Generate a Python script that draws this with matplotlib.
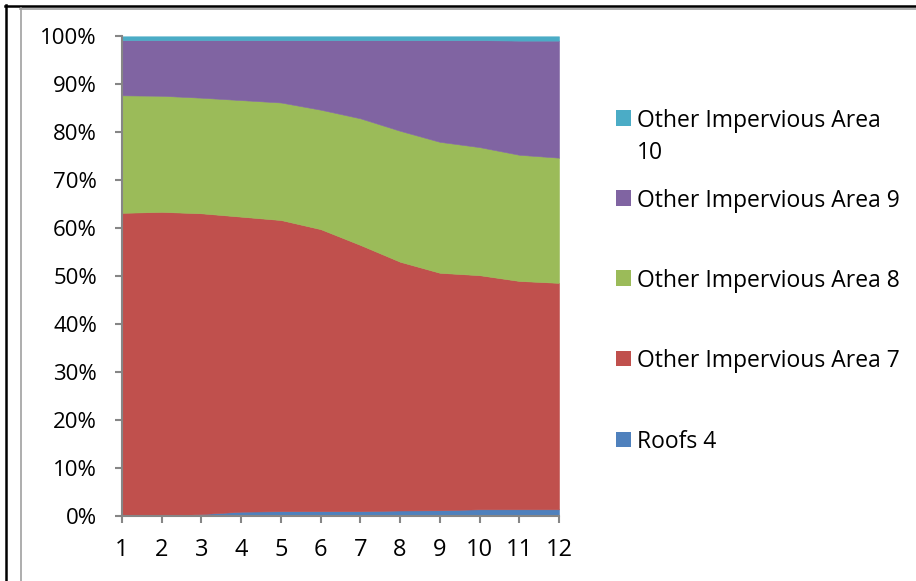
import matplotlib
matplotlib.use("Agg")
import matplotlib.pyplot as plt
import numpy as np
from matplotlib.lines import Line2D
from matplotlib.patches import Rectangle

plt.rcParams['font.family'] = ['Open Sans', 'DejaVu Sans']

periods = list(range(1, 13))
roofs_4 = [0.0, 0.05, 0.4, 0.9, 1.0, 1.0, 1.0, 1.15, 1.2, 1.4, 1.4, 1.4]
other_7 = [63.2, 63.35, 62.7, 61.5, 60.7, 58.8, 55.5, 51.85, 49.5, 48.8, 47.6, 47.2]
other_8 = [24.5, 24.2, 24.1, 24.3, 24.5, 24.9, 26.4, 27.3, 27.3, 26.7, 26.3, 26.1]
other_9 = [11.5, 11.6, 12.0, 12.5, 13.0, 14.5, 16.3, 18.9, 21.2, 22.3, 23.8, 24.4]
other_10 = [0.8, 0.8, 0.8, 0.8, 0.8, 0.8, 0.8, 0.8, 0.8, 0.8, 0.9, 0.9]

series = [roofs_4, other_7, other_8, other_9, other_10]
labels = ["Roofs 4", "Other Impervious Area 7", "Other Impervious Area 8",
          "Other Impervious Area 9", "Other Impervious Area 10"]
colors = ["#4F81BD", "#C0504D", "#9BBB59", "#8064A2", "#4BACC6"]
y_ticks = [0, 10, 20, 30, 40, 50, 60, 70, 80, 90, 100]

W, H = 916, 581
fig = plt.figure(figsize=(W / 100, H / 100), dpi=100)

# 100% stacked: normalise each period to its total
data = np.array(series, dtype=float)
data = data / data.sum(axis=0) * 100.0

left, right, top, bottom = 122, 559, 36.3, 516
ax = fig.add_axes([left / W, 1 - bottom / H, (right - left) / W, (bottom - top) / H])
ax.stackplot(periods, data, colors=colors, linewidth=0.4)
for poly, c in zip(ax.collections, colors):
    poly.set_edgecolor(c)

ax.set_xlim(1, 12)
ax.set_ylim(0, 100)
ax.set_xticks(periods)
ax.set_xticklabels([str(p) for p in periods])
ax.set_yticks(y_ticks)
ax.set_yticklabels([f"{v}%" for v in y_ticks])
for s in ("top", "right"):
    ax.spines[s].set_visible(False)
for s in ("left", "bottom"):
    ax.spines[s].set_color("#868686")
    ax.spines[s].set_linewidth(1.5)
ax.tick_params(axis="both", direction="out", length=5, width=1.5, color="#868686",
               labelcolor="black")
ax.tick_params(axis="y", pad=13, labelsize=16)
ax.tick_params(axis="x", pad=11, labelsize=17)

# legend drawn as swatches and labels in figure pixel space
def px(x, y):
    return x / W, 1 - y / H

legend_rows = [
    ("Other Impervious Area", 118, colors[4], "10"),
    ("Other Impervious Area 9", 198, colors[3], None),
    ("Other Impervious Area 8", 278, colors[2], None),
    ("Other Impervious Area 7", 358, colors[1], None),
    ("Roofs 4", 439, colors[0], None),
]
for text, yc, col, extra in legend_rows:
    x0, y0 = px(616, yc + 7.5)
    fig.add_artist(Rectangle((x0, y0), 15 / W, 15 / H, transform=fig.transFigure,
                             facecolor=col, edgecolor="none"))
    tx, ty = px(637, yc)
    fig.text(tx, ty, text, fontsize=16.5, va="center_baseline", ha="left")
    if extra:
        tx2, ty2 = px(637, yc + 32)
        fig.text(tx2, ty2, extra, fontsize=16.5, va="center_baseline", ha="left")

# outer frame lines (top and left)
fig.add_artist(Line2D([5.5 / W, 5.5 / W], [0, 1 - 5 / H], transform=fig.transFigure,
                      color="black", linewidth=1.8))
fig.add_artist(Line2D([5 / W, 1], [1 - 6 / H, 1 - 6 / H], transform=fig.transFigure,
                      color="black", linewidth=1.8))
fig.add_artist(Line2D([20.5 / W, 20.5 / W], [0, 1 - 8 / H], transform=fig.transFigure,
                      color="#A0A0A0", linewidth=1.2))
fig.add_artist(Line2D([20 / W, 1], [1 - 8.5 / H, 1 - 8.5 / H], transform=fig.transFigure,
                      color="#A0A0A0", linewidth=1.2))

fig.savefig("out.png", dpi=100)
